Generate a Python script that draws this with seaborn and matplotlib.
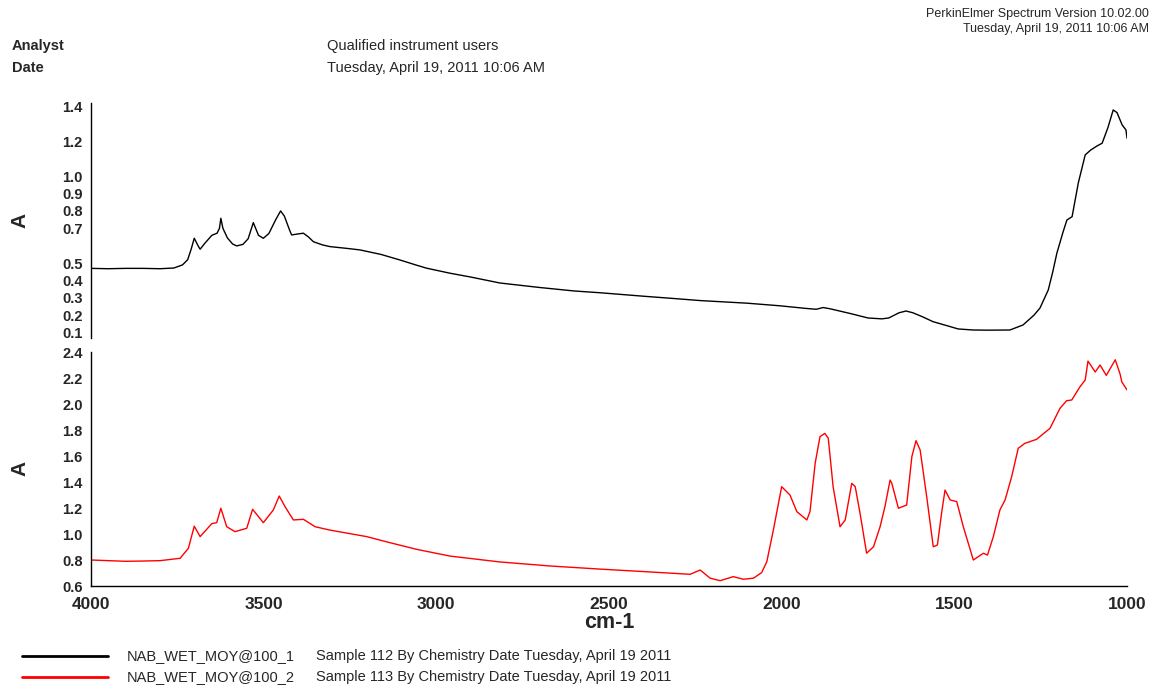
import matplotlib
matplotlib.use("Agg")
import matplotlib.pyplot as plt
import pandas as pd
import seaborn as sns

# ---- spectrum 1 (NAB_WET_MOY@100_1) ----
wavenumber_1 = [4000, 3950, 3900, 3850, 3800, 3760, 3735, 3720, 3710, 3701, 3690, 3684, 3670,
                3650, 3635, 3628, 3624, 3618, 3605, 3590, 3578, 3560, 3545, 3530, 3515, 3501,
                3485, 3465, 3451, 3440, 3425, 3419, 3400, 3385, 3370, 3356, 3330, 3308, 3260,
                3221, 3160, 3105, 3060, 3028, 2960, 2900, 2816, 2700, 2600, 2526, 2400, 2300,
                2236, 2100, 2005, 1930, 1900, 1880, 1860, 1800, 1750, 1710, 1690, 1660, 1640,
                1620, 1590, 1562, 1520, 1489, 1446, 1400, 1339, 1301, 1270, 1252, 1228, 1215,
                1203, 1185, 1174, 1159, 1141, 1121, 1105, 1087, 1072, 1055, 1040, 1029, 1014,
                1003, 1000]
absorbance_1 = [0.470, 0.468, 0.470, 0.470, 0.468, 0.472, 0.490, 0.520, 0.580, 0.643, 0.600,
                0.580, 0.615, 0.660, 0.672, 0.700, 0.758, 0.700, 0.645, 0.610, 0.599, 0.608,
                0.640, 0.733, 0.660, 0.643, 0.670, 0.750, 0.800, 0.770, 0.690, 0.662, 0.668,
                0.672, 0.650, 0.623, 0.605, 0.595, 0.585, 0.576, 0.550, 0.518, 0.490, 0.471,
                0.442, 0.420, 0.386, 0.360, 0.340, 0.330, 0.310, 0.295, 0.285, 0.270, 0.255,
                0.240, 0.235, 0.245, 0.238, 0.210, 0.185, 0.180, 0.185, 0.215, 0.225, 0.215,
                0.190, 0.164, 0.140, 0.122, 0.116, 0.115, 0.116, 0.145, 0.200, 0.242, 0.346,
                0.450, 0.558, 0.680, 0.748, 0.767, 0.961, 1.122, 1.150, 1.173, 1.189, 1.280,
                1.380, 1.365, 1.294, 1.265, 1.218]

# ---- spectrum 2 (NAB_WET_MOY@100_2) ----
wavenumber_2 = [4000, 3950, 3900, 3850, 3800, 3742, 3718, 3701, 3684, 3650, 3636, 3624, 3607,
                3583, 3549, 3532, 3501, 3472, 3455, 3438, 3414, 3385, 3351, 3308, 3202, 3134,
                3057, 2960, 2816, 2671, 2526, 2381, 2265, 2236, 2207, 2178, 2140, 2111, 2082,
                2058, 2043, 2024, 2000, 1976, 1956, 1927, 1918, 1903, 1889, 1875, 1865, 1851,
                1831, 1816, 1797, 1787, 1773, 1754, 1734, 1715, 1701, 1686, 1681, 1662, 1638,
                1623, 1611, 1599, 1580, 1561, 1549, 1537, 1527, 1512, 1493, 1474, 1445, 1416,
                1404, 1387, 1368, 1353, 1334, 1315, 1296, 1262, 1223, 1194, 1175, 1160, 1136,
                1121, 1113, 1092, 1078, 1060, 1034, 1020, 1015, 1000]
absorbance_2 = [0.800, 0.795, 0.790, 0.792, 0.795, 0.813, 0.890, 1.060, 0.980, 1.080, 1.087,
                1.198, 1.056, 1.018, 1.044, 1.190, 1.087, 1.185, 1.292, 1.210, 1.108, 1.113,
                1.056, 1.030, 0.980, 0.933, 0.882, 0.830, 0.785, 0.754, 0.730, 0.708, 0.690,
                0.723, 0.660, 0.641, 0.672, 0.652, 0.660, 0.703, 0.787, 1.031, 1.364, 1.300,
                1.172, 1.108, 1.172, 1.544, 1.749, 1.774, 1.736, 1.364, 1.056, 1.108, 1.390,
                1.364, 1.159, 0.852, 0.902, 1.056, 1.210, 1.415, 1.390, 1.198, 1.223, 1.595,
                1.718, 1.646, 1.287, 0.902, 0.915, 1.159, 1.338, 1.262, 1.249, 1.056, 0.800,
                0.852, 0.838, 0.980, 1.185, 1.262, 1.441, 1.659, 1.697, 1.728, 1.813, 1.967,
                2.025, 2.031, 2.133, 2.185, 2.330, 2.246, 2.300, 2.220, 2.340, 2.230, 2.170,
                2.108]

# ---- axis ticks and labels ----
x_ticks = [4000, 3500, 3000, 2500, 2000, 1500, 1000]
top_ticks = [0.1, 0.2, 0.3, 0.4, 0.5, 0.6, 0.7, 0.8, 0.9, 1.0, 1.1, 1.2, 1.3, 1.4]
top_labels = ["0.1", "0.2", "0.3", "0.4", "0.5", "", "0.7", "0.8", "0.9", "1.0", "", "1.2", "", "1.4"]
bottom_ticks = [0.6, 0.8, 1.0, 1.2, 1.4, 1.6, 1.8, 2.0, 2.2, 2.4]

legend_names = ["NAB_WET_MOY@100_1", "NAB_WET_MOY@100_2"]
legend_desc = ["Sample 112 By Chemistry Date Tuesday, April 19 2011",
               "Sample 113 By Chemistry Date Tuesday, April 19 2011"]
line_colors = ["#000000", "#ff0000"]

sns.set_style("white")
plt.rcParams["font.family"] = ["Liberation Sans", "DejaVu Sans"]

W, H = 1155, 691
fig = plt.figure(figsize=(W / 100, H / 100), dpi=100)


def box(x0, y0, x1, y1):
    return [x0 / W, 1 - y1 / H, (x1 - x0) / W, (y1 - y0) / H]


ax_top = fig.add_axes(box(91, 103, 1127, 338))
ax_bot = fig.add_axes(box(91, 352, 1127, 586))

df1 = pd.DataFrame({"wn": wavenumber_1, "A": absorbance_1})
df2 = pd.DataFrame({"wn": wavenumber_2, "A": absorbance_2})
sns.lineplot(data=df1, x="wn", y="A", ax=ax_top, color=line_colors[0], lw=1.0, sort=False)
sns.lineplot(data=df2, x="wn", y="A", ax=ax_bot, color=line_colors[1], lw=1.0, sort=False)

for ax in (ax_top, ax_bot):
    ax.set_xlim(4000, 1000)
    ax.set_xlabel("")
    ax.set_ylabel("")
    for s in ("top", "right"):
        ax.spines[s].set_visible(False)
    ax.spines["left"].set_color("black")
    ax.spines["left"].set_linewidth(1.0)
    ax.tick_params(axis="y", direction="out", length=5, width=1.0, color="black",
                   pad=1, labelsize=10.5)

ax_top.spines["bottom"].set_visible(False)
ax_top.set_xticks([])
ax_top.set_ylim(0.07, 1.42)
ax_top.set_yticks(top_ticks)
ax_top.set_yticklabels(top_labels, fontweight="bold", fontsize=10.5)

ax_bot.set_ylim(0.6, 2.4)
ax_bot.set_yticks(bottom_ticks)
ax_bot.set_yticklabels([f"{v:.1f}" for v in bottom_ticks], fontweight="bold", fontsize=10.5)
ax_bot.spines["bottom"].set_color("black")
ax_bot.spines["bottom"].set_linewidth(1.0)
ax_bot.set_xticks(x_ticks)
ax_bot.set_xticklabels([str(t) for t in x_ticks], fontweight="bold", fontsize=12.5)
ax_bot.tick_params(axis="x", direction="out", length=5, width=1.0, color="black", pad=3)

# axis titles
fig.text(20 / W, 1 - 220 / H, "A", rotation=90, ha="center", va="center",
         fontsize=15, fontweight="bold")
fig.text(20 / W, 1 - 468 / H, "A", rotation=90, ha="center", va="center",
         fontsize=15, fontweight="bold")
fig.text(609 / W, 1 - 622 / H, "cm-1", ha="center", va="center",
         fontsize=15.5, fontweight="bold")

# report header
fig.text(12 / W, 1 - 46 / H, "Analyst", ha="left", va="center", fontsize=10.5, fontweight="bold")
fig.text(12 / W, 1 - 68 / H, "Date", ha="left", va="center", fontsize=10.5, fontweight="bold")
fig.text(327 / W, 1 - 46 / H, "Qualified instrument users", ha="left", va="center", fontsize=10.5)
fig.text(327 / W, 1 - 68 / H, "Tuesday, April 19, 2011 10:06 AM", ha="left", va="center", fontsize=10.5)
fig.text(1149 / W, 1 - 14 / H, "PerkinElmer Spectrum Version 10.02.00", ha="right", va="center", fontsize=9)
fig.text(1149 / W, 1 - 29 / H, "Tuesday, April 19, 2011 10:06 AM", ha="right", va="center", fontsize=9)

# legend block
for i, yy in enumerate((656, 677)):
    fig.add_artist(plt.Line2D([22 / W, 108 / W], [1 - yy / H, 1 - yy / H],
                              color=line_colors[i], lw=2.0, transform=fig.transFigure))
    fig.text(127 / W, 1 - yy / H, legend_names[i], ha="left", va="center", fontsize=10.5)
    fig.text(316 / W, 1 - yy / H, legend_desc[i], ha="left", va="center", fontsize=10.5)

fig.savefig("out.png", dpi=100, facecolor="white")
